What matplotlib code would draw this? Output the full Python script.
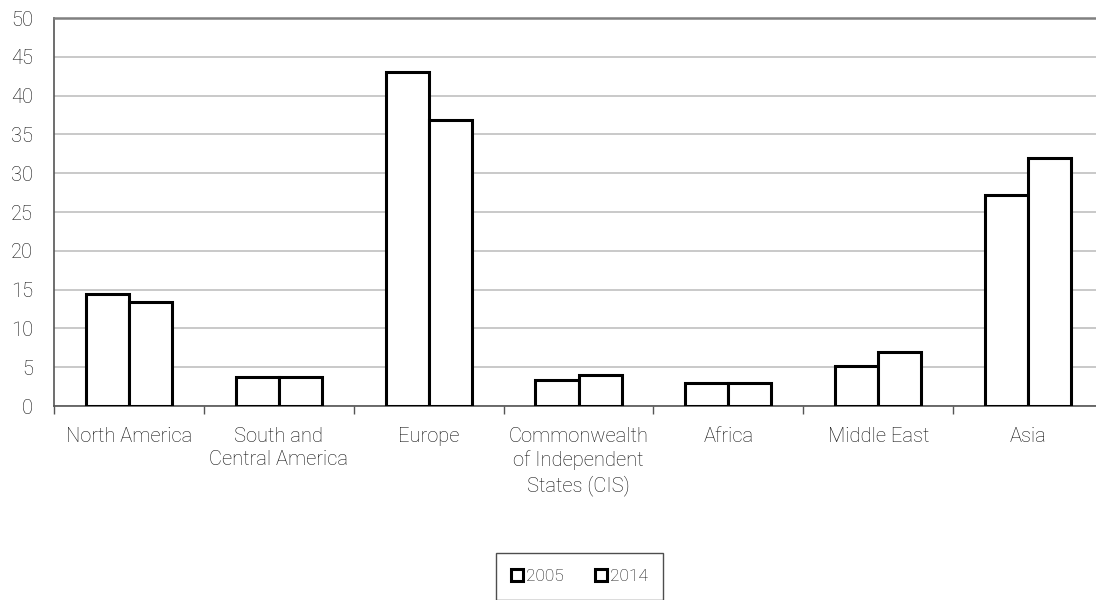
import numpy as np
import matplotlib.pyplot as plt
from matplotlib.patches import Patch

plt.rcParams['font.family'] = ['Roboto', 'Liberation Sans', 'DejaVu Sans']
plt.rcParams['font.weight'] = 'light'

regions = ['North America', 'South and\nCentral America', 'Europe',
           'Commonwealth\nof Independent\nStates (CIS)', 'Africa', 'Middle East', 'Asia']
share_2005 = [14.4, 3.7, 43.0, 3.4, 3.0, 5.2, 27.2]
share_2014 = [13.4, 3.8, 36.9, 4.0, 3.0, 7.0, 32.0]
years = ['2005', '2014']

W, H = 1096, 600
fig = plt.figure(figsize=(W / 100, H / 100), dpi=100)
# axes box in pixels: left 54, right ~1103 (runs off the image), top 18, bottom 406
ax = fig.add_axes([54 / W, 1 - 406 / H, (1103 - 54) / W, (406 - 18) / H])

x = np.arange(len(regions))
bw = 0.287
for off, vals in zip([-bw / 2, bw / 2], [share_2005, share_2014]):
    ax.bar(x + off, vals, width=bw, facecolor='white', edgecolor='black', linewidth=2.2, zorder=3)

ax.set_xlim(-0.5, len(regions) - 0.5)
ax.set_ylim(0, 50)
ax.set_yticks(np.arange(0, 51, 5))
ax.yaxis.grid(True, color='#c0c0c0', linewidth=1.2, zorder=0)
ax.tick_params(axis='y', length=0, labelsize=14.5, pad=15, labelcolor='#111111')

# category labels at centres, tick marks at boundaries
ax.set_xticks(x)
ax.set_xticklabels(regions, fontsize=14.5, color='#111111', linespacing=1.3)
ax.tick_params(axis='x', which='major', length=0, pad=15)
ax.set_xticks(np.arange(-0.5, len(regions), 1), minor=True)
ax.tick_params(axis='x', which='minor', length=6, color='#555555', width=1)

for s in ['left', 'bottom']:
    ax.spines[s].set_color('#555555')
    ax.spines[s].set_linewidth(1.2)
ax.spines['top'].set_color('#808080')
ax.spines['top'].set_linewidth(1.8)
ax.spines['right'].set_visible(False)

handles = [Patch(facecolor='white', edgecolor='black', linewidth=2.2, label=y) for y in years]
leg = fig.legend(handles=handles, loc='center', bbox_to_anchor=(579.5 / W, 1 - 576.5 / H),
                 ncol=2, frameon=True, fancybox=False, fontsize=12.5,
                 handlelength=0.7, handleheight=0.7, handletextpad=0.15,
                 columnspacing=1.8, borderpad=0.9)
leg.get_frame().set_edgecolor('#222222')
leg.get_frame().set_linewidth(1)
for t in leg.get_texts():
    t.set_color('#111111')

fig.savefig('out.png', dpi=100)
